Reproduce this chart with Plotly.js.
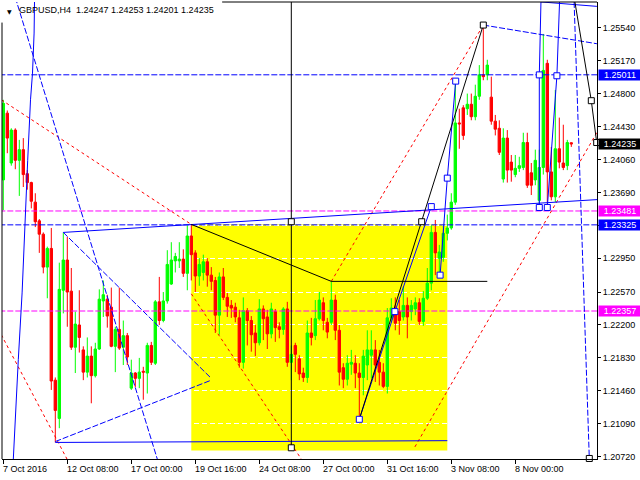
<!DOCTYPE html>
<html><head><meta charset="utf-8">
<script src="https://cdn.plot.ly/plotly-3.0.1.min.js"></script>
<style>html,body{margin:0;padding:0;background:#fff}#chart{width:640px;height:480px}</style>
</head><body><div id="chart"></div>
<script>
// ---- candle data (H4, GBPUSD) ----
const open=[1.2383,1.2458,1.2402,1.2439,1.2405,1.2417,1.2390,1.2380,1.2358,1.2337,1.2322,1.2285,1.2306,1.2158,1.2115,1.2259,1.2293,1.2258,1.2195,1.2220,
1.2192,1.2167,1.2185,1.2163,1.2193,1.2247,1.2249,1.2240,1.2196,1.2215,1.2195,1.2208,1.2149,1.2166,1.2160,1.2168,1.2166,1.2197,1.2177,1.2246,
1.2225,1.2247,1.2266,1.2292,1.2292,1.2294,1.2278,1.2320,1.2301,1.2275,1.2279,1.2291,1.2276,1.2270,1.2231,1.2274,1.2251,1.2242,1.2240,1.2228,
1.2178,1.2236,1.2225,1.2211,1.2200,1.2238,1.2229,1.2210,1.2235,1.2218,1.2215,1.2238,1.2178,1.2197,1.2182,1.2166,1.2161,1.2211,1.2208,1.2227,
1.2245,1.2223,1.2223,1.2248,1.2214,1.2172,1.2159,1.2176,1.2177,1.2166,1.2161,1.2175,1.2186,1.2192,1.2178,1.2167,1.2151,1.2228,1.2239,1.2235,
1.2229,1.2242,1.2235,1.2238,1.2245,1.2224,1.2250,1.2267,1.2324,1.2295,1.2296,1.2323,1.2329,1.2358,1.2447,1.2464,1.2463,1.2468,1.2454,1.2477,
1.2501,1.2501,1.2476,1.2449,1.2441,1.2384,1.2430,1.2403,1.2389,1.2396,1.2397,1.2425,1.2391,1.2383,1.2360,1.2397,1.2514,1.2392,1.2364,1.2418,
1.2402,1.2399,1.24247];
const high=[1.2473,1.2461,1.2441,1.2441,1.2428,1.2430,1.2394,1.2381,1.2368,1.2339,1.2324,1.2308,1.2329,1.2161,1.2290,1.2324,1.2319,1.2284,1.2235,1.2259,
1.2196,1.2206,1.2196,1.2200,1.2260,1.2270,1.2254,1.2262,1.2218,1.2262,1.2225,1.2211,1.2181,1.2167,1.2183,1.2173,1.2200,1.2201,1.2248,1.2274,
1.2257,1.2304,1.2313,1.2301,1.2313,1.2305,1.2332,1.2333,1.2304,1.2295,1.2299,1.2295,1.2285,1.2274,1.2279,1.2284,1.2256,1.2248,1.2245,1.2237,
1.2251,1.2239,1.2230,1.2220,1.2249,1.2242,1.2237,1.2245,1.2238,1.2223,1.2240,1.2246,1.2197,1.2200,1.2186,1.2172,1.2225,1.2228,1.2248,1.2257,
1.2251,1.2228,1.2270,1.2254,1.2220,1.2177,1.2186,1.2192,1.2186,1.2177,1.2192,1.2214,1.2214,1.2203,1.2192,1.2177,1.2239,1.2250,1.2251,1.2248,
1.2263,1.2251,1.2248,1.2251,1.2250,1.2258,1.2284,1.2332,1.2338,1.2310,1.2332,1.2344,1.2368,1.2494,1.2463,1.2467,1.2480,1.2480,1.2490,1.2512,
1.2557,1.2518,1.2499,1.2456,1.2450,1.2441,1.2439,1.2411,1.2411,1.2409,1.2436,1.2436,1.2402,1.2417,1.2417,1.2547,1.2518,1.2420,1.2484,1.2453,
1.2445,1.2428,1.24253];
const low=[1.2349,1.2413,1.2399,1.2395,1.2365,1.2375,1.2372,1.2351,1.2330,1.2301,1.2278,1.2250,1.2147,1.2088,1.2104,1.2233,1.2218,1.2192,1.2166,1.2189,
1.2158,1.2161,1.2132,1.2161,1.2192,1.2229,1.2217,1.2195,1.2167,1.2192,1.2175,1.2175,1.2147,1.2150,1.2149,1.2136,1.2143,1.2175,1.2175,1.2220,
1.2223,1.2244,1.2265,1.2279,1.2284,1.2274,1.2259,1.2270,1.2257,1.2264,1.2270,1.2263,1.2259,1.2211,1.2209,1.2248,1.2229,1.2228,1.2223,1.2172,
1.2171,1.2197,1.2190,1.2185,1.2197,1.2203,1.2193,1.2205,1.2201,1.2205,1.2209,1.2173,1.2158,1.2167,1.2158,1.2156,1.2155,1.2197,1.2203,1.2225,
1.2214,1.2205,1.2220,1.2203,1.2152,1.2149,1.2152,1.2164,1.2149,1.2114,1.2141,1.2158,1.2160,1.2156,1.2152,1.2149,1.2143,1.2223,1.2214,1.2209,
1.2225,1.2205,1.2225,1.2231,1.2220,1.2219,1.2248,1.2259,1.2276,1.2276,1.2291,1.2315,1.2327,1.2355,1.2418,1.2428,1.2456,1.2450,1.2450,1.2473,
1.2495,1.2495,1.2445,1.2433,1.2411,1.2380,1.2380,1.2381,1.2386,1.2392,1.2394,1.2374,1.2366,1.2377,1.2353,1.2389,1.2353,1.2360,1.2358,1.2396,
1.2394,1.2394,1.24201];
const close=[1.2469,1.2430,1.2439,1.2405,1.2417,1.2389,1.2380,1.2359,1.2336,1.2322,1.2285,1.2306,1.2157,1.2124,1.2260,1.2293,1.2257,1.2195,1.2221,1.2206,
1.2167,1.2185,1.2163,1.2193,1.2249,1.2254,1.2230,1.2196,1.2215,1.2194,1.2208,1.2184,1.2166,1.2160,1.2167,1.2167,1.2197,1.2178,1.2246,1.2225,
1.2247,1.2288,1.2293,1.2297,1.2294,1.2278,1.2320,1.2299,1.2275,1.2288,1.2291,1.2276,1.2269,1.2231,1.2274,1.2251,1.2241,1.2239,1.2229,1.2178,
1.2236,1.2225,1.2209,1.2200,1.2238,1.2227,1.2210,1.2238,1.2217,1.2215,1.2238,1.2178,1.2187,1.2187,1.2165,1.2161,1.2211,1.2206,1.2227,1.2248,
1.2225,1.2212,1.2248,1.2214,1.2167,1.2159,1.2177,1.2178,1.2166,1.2161,1.2185,1.2192,1.2192,1.2175,1.2167,1.2151,1.2228,1.2239,1.2222,1.2225,
1.2242,1.2229,1.2242,1.2245,1.2224,1.2250,1.2267,1.2324,1.2301,1.2302,1.2323,1.2329,1.2358,1.2447,1.2446,1.2433,1.2468,1.2454,1.2477,1.2501,
1.2499,1.2512,1.2449,1.2440,1.2414,1.2430,1.2394,1.2394,1.2396,1.2399,1.2425,1.2377,1.2377,1.2405,1.2397,1.2506,1.2392,1.2364,1.2418,1.2403,
1.2397,1.2425,1.24235];

// ---- axis labels ----
const timeTickIdx=[0,16,32,48,64,80,96,112,128];
const timeTickLabels=["7 Oct 2016","12 Oct 08:00","17 Oct 00:00","19 Oct 16:00","24 Oct 08:00","27 Oct 00:00","31 Oct 16:00","3 Nov 08:00","8 Nov 00:00"];
const priceTicks=[1.2072,1.2109,1.2146,1.2183,1.2220,1.2257,1.2295,1.2332,1.2369,1.2406,1.2443,1.2480,1.2517,1.2554];
const priceTickText=["1.20720","1.21090","1.21460","1.21830","1.22200","1.22570","1.22950","","1.23690","1.24060","1.24430","1.24800","1.25170","1.25540"];
const titleText="GBPUSD,H4  1.24247 1.24253 1.24201 1.24235";

// ---- horizontal levels ----
const blueLevels=[1.25011,1.23325];
const magentaLevels=[1.23481,1.22357];
const lastPrice=1.24235;

// ---- drawing objects: bar index / price anchors ----
const arcX=[7.8,7.7,7.3,6.8,6.1,5.4,4.7,3.75,2.85,2.5];
const arcY=[1.2583,1.2548,1.2503,1.2473,1.2405,1.2330,1.2256,1.2181,1.2105,1.2069];
const fanDashX=[3.0,39.0], fanDashY=[1.2588,1.2062];
const baseLineX=[13,111], baseLineY=[1.2088,1.2090];
const wedgeLowX=[13,52], wedgeLowY=[1.2089,1.2158];
const wedgeHighX=[15,52], wedgeHighY=[1.2324,1.2160];
const upperTrendX=[15,149], upperTrendY=[1.2324,1.2361];
const vLineX=[72,72], vLineY=[1.2600,1.2082];
const legAX=[47,82,121], legAY=[1.2333,1.2269,1.2269];
const legBX=[89,104.6,120], legBY=[1.2114,1.2336,1.2557];
const legCX=[142.9,147,148.35], legCY=[1.2583,1.2472,1.2425];
const peakDashX=[120,148.4], peakDashY=[1.2557,1.2536];
const zig1X=[89,97.9,107], zig1Y=[1.2114,1.2235,1.2353];
const zig2X=[109.2,111,113.1], zig2Y=[1.2276,1.2385,1.2494];
const spike1X=[134,134,134.5], spike1Y=[1.2352,1.2501,1.2600];
const spike2X=[136,138.4,139.2], spike2Y=[1.2352,1.2500,1.2600];
const topEdgeX=[134.4,148.4], topEdgeY=[1.2583,1.2578];
const rightDashX=[142.7,146.5], rightDashY=[1.2583,1.2070];
const red1X=[-0.5,47], red1Y=[1.2473,1.2333];
const red2X=[47,75], red2Y=[1.2255,1.2066];
const red3X=[-0.5,16.2], red3Y=[1.2209,1.2067];
const red4X=[82,120], red4Y=[1.2269,1.2557];
const red5X=[102.9,149], red5Y=[1.2083,1.2441];
const boxX=[47,111], boxY=[1.2079,1.2333];

const FONT='"Liberation Sans", Arial, sans-serif';
const BLUE='#0000ff', RED='#ff0000', MAG='#ff00ff', BLK='#000000';
const DASH='6px,2px', DOT='3px,3px';
function seg(xs,ys,color,dash){return {type:'scatter',mode:'lines',x:xs,y:ys,line:{color:color,width:1,dash:dash||'solid'},hoverinfo:'skip',showlegend:false};}
function marks(xs,ys,color){return {type:'scatter',mode:'markers',x:xs,y:ys,marker:{symbol:'square',size:6,color:'white',line:{color:color,width:1}},hoverinfo:'skip',showlegend:false,cliponaxis:false};}

const idx=open.map((_,k)=>k);
const traces=[
 {type:'candlestick',x:idx,open:open,high:high,low:low,close:close,
  increasing:{line:{color:'#00ff00',width:1},fillcolor:'#00ff00'},
  decreasing:{line:{color:'#ff0000',width:1},fillcolor:'#ff0000'},
  whiskerwidth:0,hoverinfo:'skip',showlegend:false}
];
blueLevels.forEach(v=>traces.push(seg([-1,150],[v,v],BLUE,DASH)));
magentaLevels.forEach(v=>traces.push(seg([-1,150],[v,v],MAG,DASH)));
traces.push(
 seg(red1X,red1Y,RED,DOT), seg(red2X,red2Y,RED,DOT), seg(red3X,red3Y,RED,DOT),
 seg(red4X,red4Y,RED,DOT), seg(red5X,red5Y,RED,DOT),
 seg(arcX,arcY,BLUE), seg(fanDashX,fanDashY,BLUE,DASH), seg(baseLineX,baseLineY,BLUE),
 seg(wedgeLowX,wedgeLowY,BLUE,DASH), seg(wedgeHighX,wedgeHighY,BLUE,DASH),
 seg(upperTrendX,upperTrendY,BLUE), seg(peakDashX,peakDashY,BLUE,DASH),
 seg(rightDashX,rightDashY,BLUE,DASH), seg(topEdgeX,topEdgeY,BLUE),
 seg(zig1X,zig1Y,BLUE), seg(zig2X,zig2Y,BLUE), seg(spike1X,spike1Y,BLUE), seg(spike2X,spike2Y,BLUE),
 seg(vLineX,vLineY,BLK), seg(legAX,legAY,BLK), seg(legBX,legBY,BLK), seg(legCX,legCY,BLK),
 marks([vLineX[0],vLineX[1]],[1.2336,vLineY[1]],BLK),
 marks(legBX.slice(1),legBY.slice(1),BLK),
 marks(legCX.slice(1),legCY.slice(1),BLK),
 marks([rightDashX[1]],[rightDashY[1]],BLK),
 marks(zig1X,zig1Y,BLUE), marks(zig2X,zig2Y,BLUE),
 marks([spike1X[0],spike1X[1],spike2X[0],spike2X[1]],[spike1Y[0],spike1Y[1],spike2Y[0],spike2Y[1]],BLUE)
);

const annotations=[];
timeTickIdx.forEach((t,k)=>annotations.push({xref:'x',x:t,yref:'paper',y:0,xanchor:'left',yanchor:'top',yshift:-3,xshift:-2,
  text:timeTickLabels[k],showarrow:false,font:{family:FONT,size:9,color:'black'}}));
function priceTag(v,bg){return {xref:'paper',x:1,xanchor:'left',xshift:1,yref:'y',y:v,yanchor:'middle',text:v.toFixed(5),
  showarrow:false,bgcolor:bg,borderpad:0,width:42,height:10,align:'center',font:{family:FONT,size:9,color:'white'}};}
annotations.push(priceTag(blueLevels[0],BLUE),priceTag(blueLevels[1],BLUE),priceTag(magentaLevels[0],MAG),priceTag(magentaLevels[1],MAG),priceTag(lastPrice,BLK));
annotations.push({xref:'paper',x:0,xanchor:'left',xshift:15,yref:'paper',y:1,yanchor:'top',yshift:-1,text:titleText,showarrow:false,font:{family:FONT,size:9,color:'black'}});
annotations.push({xref:'paper',x:0,xanchor:'center',xshift:7,yref:'paper',y:1,yanchor:'middle',yshift:-9,text:'\u25BC',showarrow:false,font:{family:'DejaVu Sans',size:6,color:'black'}});

const shapes=[
 {type:'rect',xref:'x',yref:'y',x0:boxX[0],x1:boxX[1],y0:boxY[0],y1:boxY[1],fillcolor:'#ffff00',line:{width:0},layer:'below'},
 {type:'line',xref:'paper',yref:'paper',x0:0.37,x1:1,y0:1,y1:1,line:{color:'black',width:1}},
 {type:'line',xref:'paper',yref:'paper',x0:0,x1:0,y0:0,y1:0.955,line:{color:'black',width:1}}
];

const layout={width:640,height:480,margin:{l:2,r:43,t:2,b:21,pad:0},paper_bgcolor:'white',plot_bgcolor:'white',showlegend:false,
 boxgap:0.3,boxgroupgap:0.15,
 xaxis:{range:[-0.325,148.425],showgrid:false,zeroline:false,showline:true,linecolor:'black',linewidth:1,ticks:'outside',ticklen:4,tickcolor:'black',
   tickvals:timeTickIdx,showticklabels:false,rangeslider:{visible:false},fixedrange:true},
 yaxis:{side:'right',range:[1.20694,1.25829],showgrid:true,gridcolor:'white',griddash:'5px,3px',gridwidth:1,zeroline:false,showline:true,linecolor:'black',linewidth:1,
   ticks:'outside',ticklen:3,tickcolor:'black',tickvals:priceTicks,ticktext:priceTickText,tickfont:{family:FONT,size:9,color:'black'},fixedrange:true},
 shapes:shapes,annotations:annotations,hovermode:false};
Plotly.newPlot('chart',traces,layout,{staticPlot:true,displayModeBar:false});
</script></body></html>
